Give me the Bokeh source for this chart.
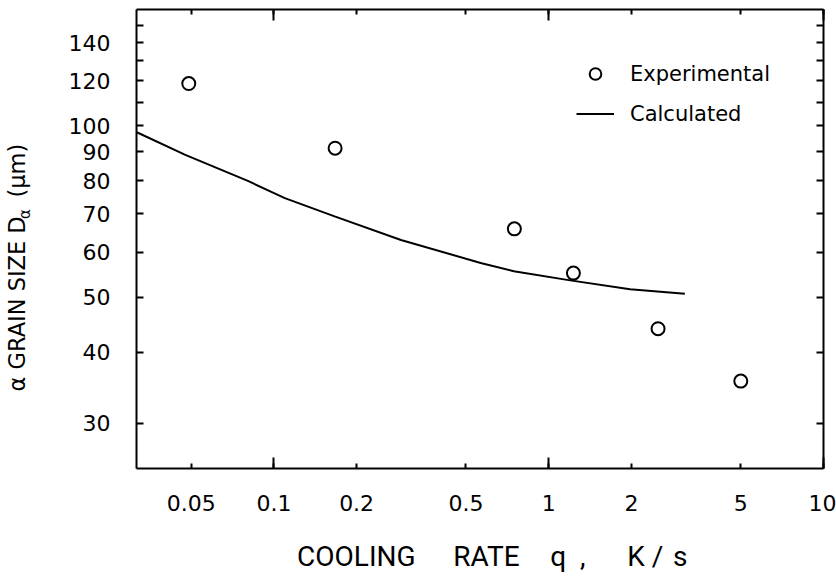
import math
from bokeh.plotting import figure
from bokeh.models import LogAxis, FixedTicker, Label, Legend, LegendItem, Range1d
from bokeh.embed import file_html
from bokeh.resources import INLINE

# ---- data ----
q_exp = [0.049, 0.167, 0.75, 1.23, 2.5, 5.0]
d_exp = [118.6, 91.3, 65.9, 55.1, 44.0, 35.6]

q_calc = [0.0317, 0.0476, 0.0808, 0.1096, 0.1663, 0.290, 0.5656, 0.7466, 1.198, 1.977, 3.129]
d_calc = [97.4, 88.9, 79.9, 74.6, 69.3, 63.0, 57.4, 55.5, 53.5, 51.6, 50.7]

x_ticks = [0.05, 0.1, 0.2, 0.5, 1, 2, 5, 10]
x_tick_labels = ["0.05", "0.1", "0.2", "0.5", "1", "2", "5", "10"]
x_decades = [0.1, 1, 10]
y_ticks = [30, 40, 50, 60, 70, 80, 90, 100, 120, 140]
y_minor = [110, 130, 150]

FONT = "DejaVu Sans"
NB = "\u00a0"
HS = "\u200a"

p = figure(width=836, height=577, x_axis_type="log", y_axis_type="log",
           x_range=Range1d(10 ** -1.5, 10), y_range=Range1d(25, 160),
           output_backend="svg", toolbar_location=None,
           min_border_left=135, min_border_right=13, min_border_top=9, min_border_bottom=109)
p.outline_line_color = None
p.xgrid.visible = False
p.ygrid.visible = False
p.background_fill_color = "white"
p.border_fill_color = "white"

xt = FixedTicker(ticks=x_ticks, minor_ticks=x_decades)
yt = FixedTicker(ticks=y_ticks, minor_ticks=y_minor)


def style_x(ax, labels=True):
    ax.ticker = xt
    ax.axis_line_width = 2
    ax.axis_line_color = "black"
    ax.major_tick_in = 5
    ax.major_tick_out = 0
    ax.minor_tick_in = 11
    ax.minor_tick_out = 0
    ax.major_tick_line_width = 2
    ax.minor_tick_line_width = 2
    ax.major_tick_line_color = "black"
    ax.minor_tick_line_color = "black"
    if labels:
        ax.major_label_overrides = {t: s for t, s in zip(x_ticks, x_tick_labels)}
        ax.major_label_text_font = FONT
        ax.major_label_text_font_size = "22px"
        ax.major_label_text_color = "black"
        ax.major_label_standoff = 26
    else:
        ax.major_label_overrides = {t: "" for t in x_ticks}
        ax.major_label_text_font_size = "0px"
        ax.major_label_standoff = 0


def style_y(ax, labels=True, standoff=26):
    ax.ticker = yt
    ax.axis_line_width = 2
    ax.axis_line_color = "black"
    ax.major_tick_in = 7
    ax.major_tick_out = 0
    ax.minor_tick_in = 7
    ax.minor_tick_out = 0
    ax.major_tick_line_width = 2
    ax.minor_tick_line_width = 2
    ax.major_tick_line_color = "black"
    ax.minor_tick_line_color = "black"
    if labels:
        ax.major_label_overrides = {t: str(t) for t in y_ticks}
        ax.major_label_text_font = FONT
        ax.major_label_text_font_size = "22px"
        ax.major_label_text_color = "black"
        ax.major_label_standoff = standoff
    else:
        ax.major_label_overrides = {t: "" for t in y_ticks}
        ax.major_label_text_font_size = "0px"
        ax.major_label_standoff = 0


style_x(p.xaxis[0])
yax = p.yaxis[0]
style_y(yax, standoff=26)
# y axis title; the gap after "D" holds the subscript alpha (a separate label),
# trailing spaces shift the visible text down to match the reference
yax.axis_label = "\u03b1 GRAIN SIZE D" + NB * 2 + "\u2009" + "(\u03bcm)" + NB * 8
yax.axis_label_text_font = FONT
yax.axis_label_text_font_size = "22.5px"
yax.axis_label_text_font_style = "normal"
yax.axis_label_text_color = "black"
yax.axis_label_standoff = 36

top = LogAxis()
style_x(top, labels=False)
p.add_layout(top, "above")
right = LogAxis()
style_y(right, labels=False)
p.add_layout(right, "right")

line_r = p.line(q_calc, d_calc, line_color="black", line_width=2)
pts_r = p.scatter(q_exp, d_exp, marker="circle", size=13, fill_color=None,
                  line_color="black", line_width=2)

legend = Legend(items=[LegendItem(label="Experimental", renderers=[pts_r]),
                       LegendItem(label="Calculated", renderers=[line_r])],
                location=(440, 340), orientation="vertical",
                glyph_width=38, glyph_height=29, label_height=29, spacing=11,
                label_standoff=16, padding=0, margin=0,
                border_line_color=None, background_fill_alpha=0,
                label_text_font=FONT, label_text_font_size="21px",
                label_text_color="black")
p.add_layout(legend, "center")

# x axis title, in the panel below the axis
p.add_layout(Label(x=160.6, y=-10, x_units="screen", y_units="screen",
                   text="COOLING" + NB * 5 + HS + "RATE" + NB * 4 + HS + "q" + NB * 2 + "," + NB * 6 + "K" + NB + "/" + NB + HS + "s",
                   text_font="Roboto", text_font_size="28px",
                   text_align="left", text_baseline="alphabetic", text_color="black"),
             "below")

# subscript alpha of D (kept in a side panel so it is not clipped by the frame)
alpha_lbl = Label(x=23.5 - 134.7, y=342.5, x_units="screen", y_units="screen",
                  text="\u03b1", angle=math.pi / 2, text_font=FONT, text_font_size="15px",
                  text_align="center", text_baseline="middle", text_color="black")
p.add_layout(alpha_lbl, "below")

open("out.html", "w").write(file_html(p, INLINE))
